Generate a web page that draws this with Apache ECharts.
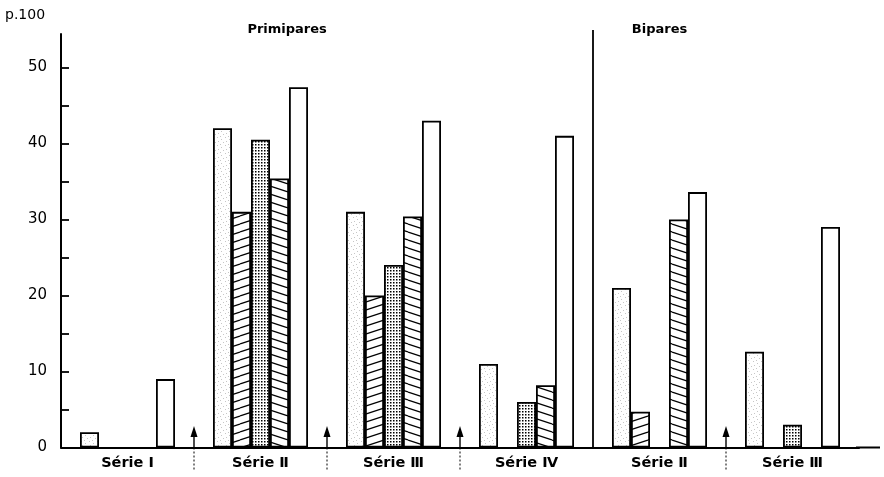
<!DOCTYPE html>
<html>
<head>
<meta charset="utf-8">
<script src="https://cdn.jsdelivr.net/npm/echarts@6/dist/echarts.min.js"></script>
<style>
  html, body { margin: 0; padding: 0; background: #fff; }
  #chart { width: 884px; height: 477px; }
</style>
</head>
<body>
<div id="chart"></div>
<script>
// Categories: four series of primipares, then two of bipares
const categories = ['Série Ⅰ', 'Série Ⅱ', 'Série Ⅲ', 'Série Ⅳ', 'Série Ⅱ', 'Série Ⅲ'];
const groupTitles = ['Primipares', 'Bipares'];
const yTickValues = [0, 5, 10, 15, 20, 25, 30, 35, 40, 45, 50];
const yLabelValues = [0, 10, 20, 30, 40, 50];
const yUnit = 'p.100';

// Percentages per bar position inside each group (null = no bar)
const lightStipple = [2, 42, 31, 11, 21, 12.6];
const risingHatch  = [null, 31, 20, null, 4.7, null];
const denseDots    = [null, 40.5, 24, 6, null, 3];
const fallingHatch = [null, 35.4, 30.4, 8.2, 30, null];
const plainWhite   = [9, 47.4, 43, 41, 33.6, 29];

// ---- fill patterns -------------------------------------------------------
function tile(w, h, draw) {
  const c = document.createElement('canvas');
  c.width = w; c.height = h;
  const ctx = c.getContext('2d');
  ctx.fillStyle = '#fff';
  ctx.fillRect(0, 0, w, h);
  draw(ctx);
  return { image: c, repeat: 'repeat' };
}
const patLight = tile(8, 8, ctx => {
  ctx.fillStyle = 'rgba(130,130,130,0.45)';
  [[1,1],[5,3],[2,5],[7,6],[4,0]].forEach(p => ctx.fillRect(p[0], p[1], 1, 1));
});
const patDense = tile(3, 3, ctx => {
  ctx.fillStyle = '#000';
  ctx.fillRect(0, 0, 1.5, 1.5);
});
// shallow diagonal hatching, ~8px apart vertically
function hatch(rising) {
  const W = 24, H = 8;
  return tile(W, H, ctx => {
    ctx.strokeStyle = '#000';
    ctx.lineWidth = 1.2;
    ctx.beginPath();
    for (let k = -1; k <= 1; k++) {
      if (rising) { ctx.moveTo(0, H + k * H); ctx.lineTo(W, k * H); }
      else        { ctx.moveTo(0, k * H);     ctx.lineTo(W, H + k * H); }
    }
    ctx.stroke();
  });
}
const patRise = hatch(true);
const patFall = hatch(false);

// ---- chart ---------------------------------------------------------------
const FONT = 'DejaVu Sans';
const chart = echarts.init(document.getElementById('chart'), null, { renderer: 'canvas' });

function barSeries(name, data, fill) {
  return {
    name, type: 'bar', data,
    barWidth: 19, barGap: '0%',
    itemStyle: { color: fill, borderColor: '#000', borderWidth: 1.8 },
    silent: true
  };
}

chart.setOption({
  animation: false,
  backgroundColor: '#fff',
  grid: { left: 61, right: 25, top: 34, bottom: 29.5 },
  xAxis: {
    type: 'category',
    data: categories,
    boundaryGap: true,
    axisLine: { lineStyle: { color: '#000', width: 2 } },
    axisTick: { show: false },
    axisLabel: { color: '#000', fontFamily: FONT, fontSize: 14.5, fontWeight: 'bold', margin: 8 }
  },
  yAxis: {
    type: 'value',
    min: 0, max: 54.4,
    splitLine: { show: false },
    axisLine: { show: true, lineStyle: { color: '#000', width: 2 } },
    axisTick: { show: true, inside: true, length: 8, customValues: yTickValues,
                lineStyle: { color: '#000', width: 1.8 } },
    axisLabel: { color: '#000', fontFamily: FONT, fontSize: 15, margin: 14,
                 customValues: yLabelValues }
  },
  series: [
    barSeries('a', lightStipple, patLight),
    barSeries('b', risingHatch, patRise),
    barSeries('c', denseDots, patDense),
    barSeries('d', fallingHatch, patFall),
    barSeries('e', plainWhite, '#fff')
  ]
});

// ---- annotations: unit, group titles, divider and arrows ----------------
const x0 = chart.convertToPixel({ xAxisIndex: 0 }, 0);
const x1 = chart.convertToPixel({ xAxisIndex: 0 }, 1);
const band = x1 - x0;
const yBase = chart.convertToPixel({ yAxisIndex: 0 }, 0);
const boundary = i => x0 - band / 2 + band * i;

const elements = [
  { type: 'text', left: 5, top: 8,
    style: { text: yUnit, font: '14px ' + FONT, fill: '#000' } },
  { type: 'text', x: boundary(1.7), y: 30,
    style: { text: groupTitles[0], font: 'bold 13px ' + FONT, fill: '#000',
             align: 'center', verticalAlign: 'middle' } },
  { type: 'text', x: boundary(4.5), y: 30,
    style: { text: groupTitles[1], font: 'bold 13px ' + FONT, fill: '#000',
             align: 'center', verticalAlign: 'middle' } },
  // divider between the two parities
  { type: 'line', shape: { x1: boundary(4), y1: 30, x2: boundary(4), y2: yBase },
    style: { stroke: '#000', lineWidth: 1.8 } },
  // baseline continues a little past the last group
  { type: 'line', shape: { x1: boundary(6) - 3, y1: yBase, x2: 880, y2: yBase },
    style: { stroke: '#000', lineWidth: 2 } }
];
[1, 2, 3, 5].forEach(i => {
  const x = boundary(i);
  elements.push(
    { type: 'line', shape: { x1: x, y1: yBase, x2: x, y2: 470 },
      style: { stroke: '#000', lineWidth: 1, lineDash: [2, 2] } },
    { type: 'line', shape: { x1: x, y1: yBase, x2: x, y2: 434 },
      style: { stroke: '#000', lineWidth: 1.4 } },
    { type: 'polygon', shape: { points: [[x, 426], [x - 3.5, 437], [x + 3.5, 437]] },
      style: { fill: '#000' } }
  );
});
chart.setOption({ graphic: { elements } });
</script>
</body>
</html>
